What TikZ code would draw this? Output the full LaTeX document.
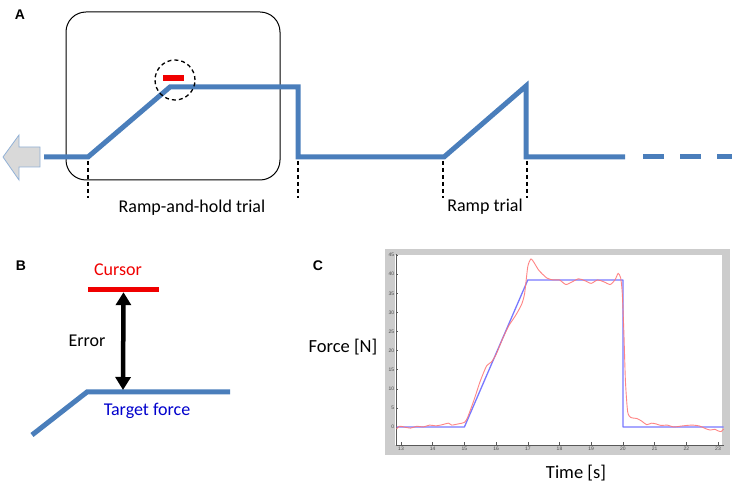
\documentclass[tikz,border=0pt]{standalone}
\usepackage{fontspec}
\setmainfont{Carlito}
\newfontfamily\panelfont{Liberation Sans}
\usetikzlibrary{arrows.meta}
\definecolor{trialblue}{RGB}{74,126,187}
\definecolor{cursorred}{RGB}{240,0,0}
\definecolor{labelblue}{RGB}{0,0,204}
\definecolor{framegray}{RGB}{204,204,204}
\definecolor{tracered}{RGB}{255,120,120}
\definecolor{targetblue}{RGB}{120,120,255}
\tikzset{
  trial/.style={trialblue, line width=5pt},
  marker/.style={black, line width=1.5pt, dash pattern=on 4pt off 3pt},
  letter/.style={font=\panelfont\bfseries\fontsize{14}{14}\selectfont},
  label/.style={font=\fontsize{18}{18}\selectfont},
  ticklab/.style={font=\panelfont\fontsize{5}{5}\selectfont, text=black!70, inner sep=1pt}
}
\begin{document}
\begin{tikzpicture}[x=1pt, y=-1pt]
    \useasboundingbox (0,0) rectangle (732,486);

    % 定義 A 圖的頂點
    \coordinate (S) at (44,157);
    \coordinate (R1) at (88,157);
    \coordinate (H1) at (170,87);
    \coordinate (H2) at (298,87);
    \coordinate (D1) at (298,157);
    \coordinate (R2) at (444,157);
    \coordinate (P2) at (526,86);
    \coordinate (D2) at (526,157);
    \coordinate (E) at (625,157);

    % A 圖
    \node[letter] (lA) at (20,15) {A};
    \draw[black, line width=1pt, rounded corners=20pt] (66,12) rectangle (280,180);
    \draw[trialblue!60, fill=black!15, line width=0.8pt]
        (3,157) -- (19,135) -- (19,147) -- (40,147) -- (40,167) -- (19,167) -- (19,180) -- cycle;
    \draw[trial] (S) -- (R1) -- (H1) -- (H2) -- (D1) -- (R2) -- (P2) -- (D2) -- (E);
    \draw[trial, dash pattern=on 21pt off 16pt] (643,157) -- (732,157);
    \fill[cursorred] (163,75) rectangle (184,81);
    \draw[black, line width=1.3pt, dash pattern=on 4pt off 3pt] (175,80) circle (20pt);
    \draw[marker] (88,161) -- (88,198);
    \draw[marker] (298,161) -- (298,198);
    \draw[marker] (443,161) -- (443,198);
    \draw[marker] (527,161) -- (527,198);
    \node[label] (rh) at (192,208) {Ramp-and-hold trial};
    \node[label] (rt) at (485,207) {Ramp trial};

    % B 圖
    \node[letter] (lB) at (21,266) {B};
    \node[label, text=cursorred] (cur) at (118,270) {Cursor};
    \node[fill=cursorred, minimum width=71pt, minimum height=5pt, inner sep=0pt] (bar) at (123.5,289.5) {};
    \coordinate (tgt) at (123,390);
    \draw[trial] (32,435) -- (87,392) -- (230,392);
    \draw[black, line width=4.5pt, {Triangle[width=15pt,length=13pt]}-{Triangle[width=15pt,length=13pt]}]
        (bar.south) -- (tgt);
    \node[label] (err) at (87,341) {Error};
    \node[label, text=labelblue] (tf) at (147,411) {Target force};

    % C 圖
    \node[letter] (lC) at (318,266) {C};
    \node[label, font=\fontsize{18.5}{19}\selectfont] (fy) at (343,347) {Force [N]};
    \node[label, font=\fontsize{18.5}{19}\selectfont] (tx) at (576,473) {Time [s]};
    \fill[framegray] (385,249) rectangle (730,455);
    \fill[white] (395,255) rectangle (722,445);

    \begin{scope}[shift={(-11.1,427)}, x=31.7pt, y=3.82pt]
        % 軸
        \draw[black!65, line width=0.8pt] (12.84,45.3) -- (12.84,-4.71) -- (23.2,-4.71);
        \foreach \t in {13,...,23}{
            \draw[black!65, line width=0.5pt] (\t,-4.71) -- ++(0,0.8);
            \node[ticklab, below] at (\t,-4.9) {\t};
        }
        \foreach \f in {0,5,...,45}{
            \draw[black!65, line width=0.5pt] (12.84,\f) -- ++(0.08,0);
            \node[ticklab, left] at (12.82,\f) {\f};
        }
        % 曲線
        \draw[targetblue, line width=1.3pt, line join=round]
            (12.86,0) -- (15,0) -- (17,38.5) -- (20,38.5) -- (20,0) -- (23.18,0);
        \draw[tracered, line width=0.9pt, opacity=0.9] plot[smooth, tension=0.4] coordinates {
            (12.86,-0.5) (12.95,0.2) (13.1,0) (13.3,-0.3) (13.5,0.2) (13.7,0) (13.9,0.5)
            (14.1,0.3) (14.3,0.6) (14.5,1.0) (14.6,0.5) (14.8,0.8) (15.0,1.2) (15.1,2.5)
            (15.3,7) (15.5,12) (15.7,16) (15.85,17) (16.0,19) (16.2,23) (16.4,26.5)
            (16.6,29) (16.8,32) (16.9,35) (17.0,42) (17.1,44) (17.2,43) (17.35,41)
            (17.6,39) (17.8,38.5) (18.0,38.5) (18.2,37.3) (18.4,38) (18.6,38.8) (18.8,38.3)
            (19.0,37.6) (19.2,38.5) (19.4,38) (19.6,37.3) (19.75,38.5) (19.85,40.2)
            (19.93,39) (19.98,35) (20.03,25) (20.08,12) (20.15,4) (20.25,2.5) (20.45,2.2)
            (20.6,1.5) (20.75,0.6) (20.9,1) (21.05,0.8) (21.2,0.4) (21.4,0.5) (21.6,0)
            (21.8,0.2) (22.0,0.4) (22.2,0.5) (22.4,0.3) (22.5,0) (22.6,-0.4) (22.75,-0.8)
            (22.9,-0.6) (23.0,-1.0) (23.1,-1.2) (23.18,-0.5)};
    \end{scope}
\end{tikzpicture}
\end{document}
